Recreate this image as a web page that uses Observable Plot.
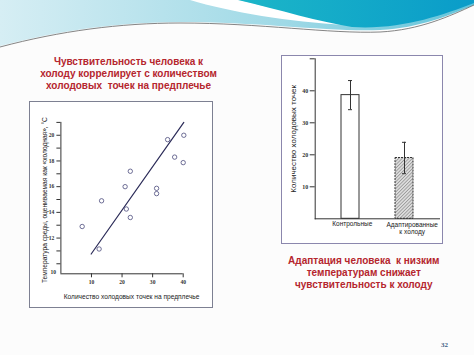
<!DOCTYPE html>
<html><head><meta charset="utf-8">
<script src="https://cdn.jsdelivr.net/npm/d3@7"></script>
<script src="https://cdn.jsdelivr.net/npm/@observablehq/plot@0.6"></script>
<style>
html,body{margin:0;padding:0;background:#fcfcfc;}
#page{position:relative;width:474px;height:355px;overflow:hidden;font-family:"Liberation Sans",Arial,sans-serif;}
.abs{position:absolute;}
.frame{position:absolute;box-sizing:border-box;background:#fff;}
.red{position:absolute;color:#b5262e;font-weight:bold;font-size:10px;line-height:12.3px;text-align:center;white-space:nowrap;}
</style></head><body>
<div id="page">
 <svg class="abs" style="left:0;top:0" width="474" height="60">
  <defs>
   <linearGradient id="lb" x1="0" x2="1" y1="0" y2="0">
    <stop offset="0" stop-color="#d6eef4"/><stop offset="0.6" stop-color="#9fd9e6"/><stop offset="1" stop-color="#63c4da"/>
   </linearGradient>
   <linearGradient id="tl" x1="0" x2="1" y1="0" y2="0">
    <stop offset="0" stop-color="#1cb6c8"/><stop offset="1" stop-color="#0a9cc9"/>
   </linearGradient>
  </defs>
  <path d="M0,0 H474 V5 C450,15 420,28 380,30 C330,32 260,22 180,22 C120,22 60,30 0,46 Z" fill="url(#lb)"/>
  <path d="M190,0 C230,12 290,22 345,25 C300,14 262,6 240,0 Z" fill="#ffffff"/>
  <path d="M238,0 C280,10 320,22 352,27 C400,30 440,16 474,3 V0 Z" fill="url(#tl)"/>
  <path d="M0,47 C60,31 120,23 180,23 C260,23 330,34 380,32 C420,30 450,16 474,5" fill="none" stroke="#666" stroke-width="0.8"/>
 </svg>
 <div class="red" style="left:28.5px;top:55.5px;width:200px">Чувствительность человека к<br>холоду коррелирует с количеством<br>холодовых&nbsp; точек на предплечье</div>
 <div class="frame" style="left:29px;top:101px;width:184px;height:207px;border:1.5px solid #7d8092"></div>
 <div id="scatter" class="abs" style="left:29px;top:101px"></div>
 <div class="frame" style="left:281px;top:55px;width:162px;height:189px;border:1.5px solid #8b87ad"></div>
 <div id="bars" class="abs" style="left:281px;top:55px"></div>
 <div class="red" style="left:263.8px;top:254.5px;width:200px">Адаптация человека&nbsp; к низким<br>температурам снижает<br>чувствительность к холоду</div>
 <div class="abs" style="left:441px;top:341px;font:bold 7px 'Liberation Serif',serif;color:#3b5b82">32</div>
</div>
<script>
// ---- Scatter: cold points vs. "cold" threshold temperature ----
const coldPoints = [6.96, 12.5, 13.3, 21.0, 21.4, 22.7, 22.7, 31.3, 31.3, 34.9, 37.2, 40.2, 40.0];
const coldTemps  = [12.9, 11.15, 14.9, 16.0, 14.26, 17.2, 13.6, 15.87, 15.46, 19.66, 18.3, 20.0, 17.87];
const fitX = [9.9, 40.2];
const fitY = [10.76, 21.0];
const scatterXDomain = [0, 40];
const scatterYDomain = [9.22, 21];
const scatterXTicks = [10, 20, 30, 40];
const scatterYTicks = [10, 11, 12, 13, 14, 15, 16, 17, 18, 19, 20, 21];
const scatterYTickLabels = [12, 14, 16, 18, 20];
const scatterCornerLabel = "10";
const scatterXTitle = "Количество холодовых точек на предплечье";
const scatterYTitle = "Температура среды, оцениваемая как «холодная», °С";

// ---- Bars: number of cold points ----
const groups = ["Контрольные", "Адаптированные\nк холоду"];
const groupMeans = [38.65, 19.0];
const groupErrors = [4.55, 4.9];
const barYDomain = [0, 50];
const barYTicks = [10, 20, 30, 40, 50];
const barYTickLabels = [10, 20, 30, 40];
const barYTitle = "Количество холодовых точек";

const scatterData = coldPoints.map((x, i) => ({x, y: coldTemps[i]}));
const fitData = fitX.map((x, i) => ({x, y: fitY[i]}));
const barData = groups.map((g, i) => ({g, m: groupMeans[i], e: groupErrors[i]}));

const tickFont = {fontFamily: "'Liberation Serif',serif", fontSize: 5.6, fontWeight: "bold"};
const sans = "'Liberation Sans',Arial,sans-serif";

const sc = Plot.plot({
  width: 184, height: 206,
  marginLeft: 31.4, marginRight: 30.3, marginTop: 20.9, marginBottom: 33.7,
  style: {background: "transparent", fontFamily: "'Liberation Serif',serif", fontSize: "5.6px", fontWeight: "bold", color: "#333", overflow: "visible"},
  x: {domain: scatterXDomain, axis: null},
  y: {domain: scatterYDomain, axis: null},
  marks: [
    Plot.ruleX([scatterXDomain[0]], {y1: scatterYDomain[0], y2: scatterYDomain[1], stroke: "#333", strokeWidth: 1}),
    Plot.ruleY([scatterYDomain[0]], {x1: scatterXDomain[0], x2: scatterXDomain[1], stroke: "#333", strokeWidth: 1}),
    Plot.axisY({ticks: scatterYTicks, tickSize: 4, tickPadding: 2.5, label: null, stroke: "#333",
      tickFormat: d => scatterYTickLabels.includes(d) ? String(d) : ""}),
    Plot.axisX({ticks: scatterXTicks, tickSize: 4, tickPadding: 2.5, label: null, stroke: "#333"}),
    Plot.text([scatterCornerLabel], {frameAnchor: "bottom-left", textAnchor: "middle", dx: -7.7, ...tickFont, fill: "#333"}),
    Plot.line(fitData, {x: "x", y: "y", stroke: "#2b2b58", strokeWidth: 1.2}),
    Plot.dot(scatterData, {x: "x", y: "y", r: 2.2, stroke: "#4b4b7c", strokeWidth: 0.8, fill: "none"}),
    Plot.text([scatterXTitle], {frameAnchor: "bottom", textAnchor: "middle", dx: 9.5, dy: 24.7, fontFamily: sans, fontSize: 6.6, fontWeight: "normal", fill: "#222"}),
    Plot.text([scatterYTitle], {frameAnchor: "left", textAnchor: "middle", rotate: -90, dx: -16.4, dy: 2, fontFamily: sans, fontSize: 6.6, fontWeight: "normal", fill: "#222"})
  ]
});
document.getElementById("scatter").appendChild(sc);

const bc = Plot.plot({
  width: 161, height: 188,
  marginLeft: 33.7, marginRight: 2, marginTop: 3.3, marginBottom: 24.7,
  style: {background: "transparent", fontFamily: "'Liberation Serif',serif", fontSize: "6px", fontWeight: "bold", color: "#333", overflow: "visible"},
  x: {domain: groups, paddingInner: 0.67, paddingOuter: 0.475, axis: null},
  y: {domain: barYDomain, axis: null},
  marks: [
    Plot.barY(barData.slice(0, 1), {x: "g", y: "m", fill: "white", stroke: "#333", strokeWidth: 1}),
    Plot.barY(barData.slice(1), {x: "g", y: "m", fill: "#d6d6d6", stroke: "#333", strokeWidth: 1, strokeDasharray: "2,1"}),
    Plot.ruleX(barData, {x: "g", y1: d => d.m - d.e, y2: d => d.m + d.e, stroke: "#333", strokeWidth: 1}),
    Plot.tickY(barData, {x: "g", y: d => d.m + d.e, insetLeft: 7, insetRight: 7, stroke: "#333"}),
    Plot.tickY(barData, {x: "g", y: d => d.m - d.e, insetLeft: 7, insetRight: 7, stroke: "#333"}),
    Plot.ruleY([barYDomain[0]], {stroke: "#333", strokeWidth: 1}),
    Plot.frame({anchor: "left", stroke: "#333", strokeWidth: 1}),
    Plot.axisY({ticks: barYTicks, tickSize: 5, tickPadding: 2, label: null, stroke: "#333",
      tickFormat: d => barYTickLabels.includes(d) ? String(d) : ""}),
    Plot.text(groups.slice(0, 1), {x: d => d, frameAnchor: "bottom", textAnchor: "middle", lineAnchor: "top", dy: 2.5, dx: 1.8, fontFamily: sans, fontSize: 6.5, fontWeight: "normal", fill: "#222"}),
    Plot.text(groups.slice(1), {x: d => d, frameAnchor: "bottom", textAnchor: "middle", lineAnchor: "top", dy: 2.5, dx: 7.7, lineHeight: 1.15, fontFamily: sans, fontSize: 6.5, fontWeight: "normal", fill: "#222"}),
    Plot.text([barYTitle], {frameAnchor: "left", textAnchor: "middle", rotate: -90, dx: -22, fontFamily: sans, fontSize: 8, fontWeight: "normal", fill: "#222"})
  ]
});
// hatch pattern for the cold-adapted bar
const ns = "http://www.w3.org/2000/svg";
const defs = document.createElementNS(ns, "defs");
defs.innerHTML = '<pattern id="hatch" patternUnits="userSpaceOnUse" width="2.4" height="2.4" patternTransform="rotate(45)"><rect width="2.4" height="2.4" fill="#dcdcdc"/><line x1="0" y1="0" x2="0" y2="2.4" stroke="#555" stroke-width="0.8"/></pattern>';
bc.insertBefore(defs, bc.firstChild);
const barGroups = bc.querySelectorAll('g[aria-label="bar"]');
if (barGroups.length > 1) {
  barGroups[1].setAttribute("fill", "url(#hatch)");
  barGroups[1].querySelectorAll("rect").forEach(r => r.removeAttribute("fill"));
}
document.getElementById("bars").appendChild(bc);
</script>
</body></html>
